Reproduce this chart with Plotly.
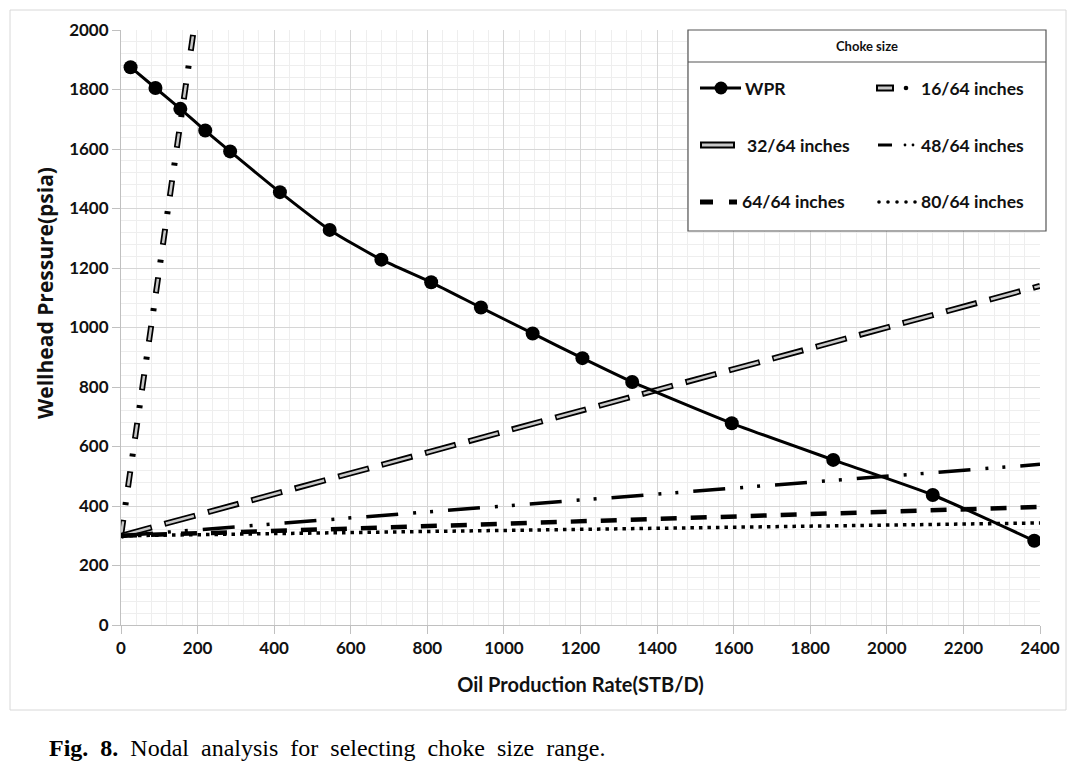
import plotly.graph_objects as go

# ---------------- data ----------------
wpr_rate = [25, 90, 155, 220, 285, 415, 545, 680, 810, 940, 1075, 1205, 1335, 1595, 1860, 2120, 2385]
wpr_pres = [1875, 1805, 1735, 1662, 1592, 1455, 1328, 1228, 1152, 1067, 980, 897, 817, 678, 555, 437, 283]

choke_16_rate = [0, 190]
choke_16_pres = [300, 2000]
choke_32_rate = [0, 2400]
choke_32_pres = [300, 1140]
choke_48_rate = [0, 2400]
choke_48_pres = [300, 540]
choke_64_rate = [0, 2400]
choke_64_pres = [300, 397]
choke_80_rate = [0, 2400]
choke_80_pres = [300, 343]

legend_labels = ["WPR", "16/64 inches", "32/64 inches", "48/64 inches", "64/64 inches", "80/64 inches"]
legend_title = "Choke size"
x_title = "Oil Production Rate(STB/D)"
y_title = "Wellhead Pressure(psia)"
caption_bold = "Fig. 8."
caption_rest = "Nodal analysis for selecting choke size range."

# ---------------- layout geometry ----------------
W, H = 1080, 765
L, R, T, B = 121, 1040, 30, 625
PW, PH = R - L, B - T


def px(x):
    return (x - L) / PW


def py(y):
    return (B - y) / PH


GRAY_IN = "#c8c8c8"
fig = go.Figure()

# 16/64 : outlined dash + dot
fig.add_trace(go.Scatter(x=choke_16_rate, y=choke_16_pres, mode="lines", showlegend=False,
                         line=dict(color="black", width=6, dash="16px,15px,3px,15px")))
fig.add_trace(go.Scatter(x=choke_16_rate, y=choke_16_pres, mode="lines", showlegend=False,
                         line=dict(color=GRAY_IN, width=2.5, dash="0px,1.5px,13px,34.5px")))
# 32/64 : outlined long dash
fig.add_trace(go.Scatter(x=choke_32_rate, y=choke_32_pres, mode="lines", showlegend=False,
                         line=dict(color="black", width=6, dash="32px,13px")))
fig.add_trace(go.Scatter(x=choke_32_rate, y=choke_32_pres, mode="lines", showlegend=False,
                         line=dict(color=GRAY_IN, width=2.5, dash="0px,1.5px,29px,14.5px")))
# 48/64 : long dash dot dot
fig.add_trace(go.Scatter(x=choke_48_rate, y=choke_48_pres, mode="lines", showlegend=False,
                         line=dict(color="black", width=3.5, dash="32px,15px,3px,14px,3px,15px")))
# 64/64 : dash
fig.add_trace(go.Scatter(x=choke_64_rate, y=choke_64_pres, mode="lines", showlegend=False,
                         line=dict(color="black", width=4.5, dash="16px,14px")))
# 80/64 : dots
fig.add_trace(go.Scatter(x=choke_80_rate, y=choke_80_pres, mode="lines", showlegend=False,
                         line=dict(color="black", width=3.5, dash="3.5px,5px")))
# WPR
fig.add_trace(go.Scatter(x=wpr_rate, y=wpr_pres, mode="lines+markers", showlegend=False,
                         line=dict(color="black", width=3, shape="spline", smoothing=0.6),
                         marker=dict(color="black", size=14)))

axis_font = dict(family="Lato, 'Open Sans', sans-serif", size=17, color="#111111", weight="bold")
fig.update_xaxes(range=[0, 2400], dtick=200, tick0=0, showgrid=True, gridcolor="#d6d6d6", gridwidth=1,
                 minor=dict(dtick=40, showgrid=True, gridcolor="#eeeeee", gridwidth=1),
                 ticks="outside", ticklen=8, tickcolor="#c0c0c0", showline=True, linecolor="#c0c0c0",
                 zeroline=False, tickfont=axis_font,
                 title=dict(text="<b>" + x_title + "</b>", standoff=20,
                            font=dict(family="Lato, sans-serif", size=20, color="#111111")))
fig.update_yaxes(range=[0, 2000], dtick=200, tick0=0, showgrid=True, gridcolor="#d6d6d6", gridwidth=1,
                 minor=dict(dtick=40, showgrid=True, gridcolor="#eeeeee", gridwidth=1),
                 ticks="outside", ticklen=8, tickcolor="#c0c0c0", showline=True, linecolor="#c0c0c0",
                 zeroline=False, tickfont=axis_font)

shapes = []
annotations = []

# y-axis title (placed slightly above the plot centre, as in the reference)
annotations.append(dict(text="<b>" + y_title + "</b>", xref="paper", yref="paper", x=px(45), y=py(293),
                        xanchor="center", yanchor="middle", textangle=-90, showarrow=False,
                        font=dict(family="'Open Sans', sans-serif", size=21, color="#111111")))

# outer frame
shapes.append(dict(type="rect", xref="paper", yref="paper", x0=px(10), x1=px(1066), y0=py(710), y1=py(10),
                   line=dict(color="#d8d8d8", width=1), fillcolor="rgba(0,0,0,0)", layer="below"))

# legend box
shapes.append(dict(type="rect", xref="paper", yref="paper", x0=px(688), x1=px(1046), y0=py(231), y1=py(30),
                   line=dict(color="#555555", width=1.2), fillcolor="white", layer="above"))
shapes.append(dict(type="line", xref="paper", yref="paper", x0=px(688), x1=px(1046), y0=py(62), y1=py(62),
                   line=dict(color="#555555", width=1.2), layer="above"))
annotations.append(dict(text="<b>" + legend_title + "</b>", xref="paper", yref="paper", x=px(867), y=py(46),
                        xanchor="center", yanchor="middle", showarrow=False,
                        font=dict(family="Lato, sans-serif", size=13, color="#111111")))


def seg(x0, x1, y, color="black", width=3, dash="solid"):
    shapes.append(dict(type="line", xref="paper", yref="paper", x0=px(x0), x1=px(x1), y0=py(y), y1=py(y),
                       line=dict(color=color, width=width, dash=dash), layer="above"))


def dot(x, y, r, color="black"):
    shapes.append(dict(type="circle", xref="paper", yref="paper", x0=px(x - r), x1=px(x + r),
                       y0=py(y + r), y1=py(y - r), line=dict(color=color, width=0), fillcolor=color,
                       layer="above"))


def capsule(x0, x1, y):
    seg(x0, x1, y, "black", 7)
    seg(x0 + 2, x1 - 2, y, GRAY_IN, 3)


rows = [88, 145, 202]
# WPR
seg(700, 741, rows[0], "black", 3)
dot(721, rows[0], 6.5)
# 16/64
capsule(876, 894, rows[0])
dot(906, rows[0], 2.3)
# 32/64
capsule(700, 735, rows[1])
# 48/64
seg(878, 892, rows[1], "black", 3)
dot(905, rows[1], 1.4)
dot(913, rows[1], 1.4)
# 64/64
seg(700, 713, rows[2], "black", 5)
seg(729, 737, rows[2], "black", 5)
# 80/64
for xx in [879, 888, 897, 906, 915]:
    dot(xx, rows[2], 1.8)

text_pos = [(743, rows[0]), (919, rows[0]), (745, rows[1]), (919, rows[1]), (740, rows[2]), (919, rows[2])]
for lab, (tx, ty) in zip(legend_labels, text_pos):
    annotations.append(dict(text="<b>" + lab + "</b>", xref="paper", yref="paper", x=px(tx), y=py(ty),
                            xanchor="left", yanchor="middle", showarrow=False,
                            font=dict(family="Lato, sans-serif", size=17.5, color="#111111")))

# caption (wide word spacing as in the reference)
wide = "\u00a0 "
caption = "<b>" + caption_bold.replace(" ", wide) + "</b>" + wide + caption_rest.replace(" ", wide)
annotations.append(dict(text=caption, xref="paper", yref="paper", x=px(47), y=py(748), xanchor="left",
                        yanchor="middle", showarrow=False,
                        font=dict(family="Liberation Serif, Times New Roman, serif", size=24, color="black")))

fig.update_layout(width=W, height=H, margin=dict(l=L, r=W - R, t=T, b=H - B),
                  plot_bgcolor="white", paper_bgcolor="white", showlegend=False,
                  shapes=shapes, annotations=annotations)

fig.write_html("out.html", config={"displayModeBar": False},
               post_script="document.body.style.margin='0px';document.body.style.padding='0px';")
